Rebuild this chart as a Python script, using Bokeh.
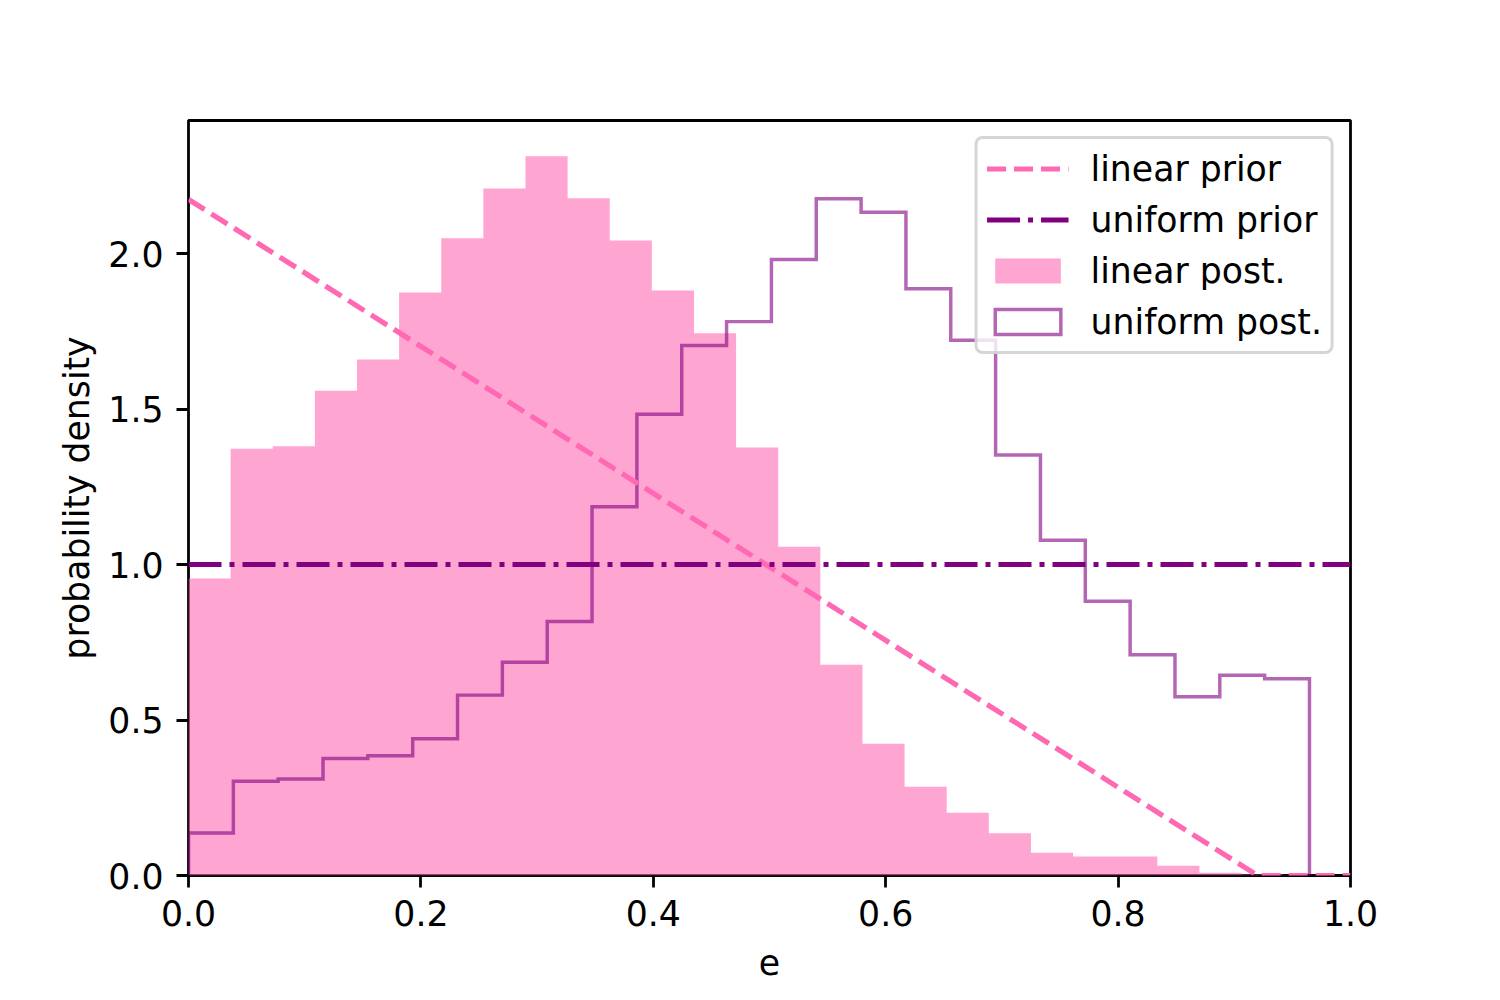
import numpy as np
from bokeh.plotting import figure
from bokeh.models import (Range1d, FixedTicker, PrintfTickFormatter, Legend,
                          LegendItem, ColumnDataSource)
from bokeh.embed import file_html
from bokeh.resources import INLINE

# ---------------- data ----------------
# linear-prior posterior histogram (filled)
linear_post_range = (0.0, 1.015)
linear_post = [0.955, 1.372, 1.380, 1.559, 1.659, 1.875, 2.049, 2.209, 2.313,
               2.178, 2.042, 1.881, 1.744, 1.376, 1.057, 0.678, 0.424, 0.285,
               0.202, 0.136, 0.073, 0.061, 0.061, 0.031, 0.009, 0.003, 0.001,
               0.0]

# uniform-prior posterior histogram (step)
uniform_post_range = (0.0, 0.9647)
uniform_post = [0.137, 0.303, 0.310, 0.376, 0.385, 0.440, 0.580, 0.686, 0.817,
                1.186, 1.483, 1.704, 1.781, 1.981, 2.176, 2.133, 1.887, 1.721,
                1.352, 1.078, 0.882, 0.710, 0.575, 0.644, 0.633]

# priors
linear_prior_x = [0.0, 0.92, 1.0]
linear_prior_y = [2.174, 0.0, 0.0]
uniform_prior_x = [0.0, 1.0]
uniform_prior_y = [1.0, 1.0]

x_ticks = [0.0, 0.2, 0.4, 0.6, 0.8, 1.0]
y_ticks = [0.0, 0.5, 1.0, 1.5, 2.0]

# ---------------- styles ----------------
FONT = "DejaVu Sans"
FS = "34.7px"
PT = 250 / 72.0


def step_path(lo, hi, heights):
    edges = np.linspace(lo, hi, len(heights) + 1)
    xs = np.repeat(edges, 2)
    ys = np.concatenate([[0.0], np.repeat(heights, 2), [0.0]])
    return xs, ys


p = figure(width=1484, height=984, output_backend="svg", toolbar_location=None,
           x_range=Range1d(0, 1), y_range=Range1d(0, 2.4277),
           min_border_left=188, min_border_right=134,
           min_border_top=120, min_border_bottom=109)
p.title = None
p.grid.visible = False
p.background_fill_color = "white"
p.border_fill_color = "white"
p.outline_line_color = "black"
p.outline_line_width = 0.8 * PT
p.outline_line_alpha = 1.0

# linear posterior (filled histogram as a single area)
lx, ly = step_path(linear_post_range[0], linear_post_range[1], linear_post)
r_lpost = p.patch(lx, ly, fill_color="hotpink", fill_alpha=0.6, line_color=None)

# uniform posterior (step outline)
ux, uy = step_path(uniform_post_range[0], uniform_post_range[1], uniform_post)
p.line(ux, uy, line_color="purple", line_alpha=0.6, line_width=1.0 * PT,
       line_join="miter")
# legend proxy for the step histogram (not drawn: NaN geometry)
r_upost = p.quad(source=ColumnDataSource(dict(l=[np.nan], r=[np.nan],
                                              b=[np.nan], t=[np.nan])),
                 left="l", right="r", bottom="b", top="t",
                 fill_color=None, line_color="purple", line_alpha=0.6,
                 line_width=1.0 * PT, line_join="miter")

# priors
r_lprior = p.line(linear_prior_x, linear_prior_y, line_color="hotpink",
                  line_width=1.5 * PT, line_dash="19 8")
r_uprior = p.line(uniform_prior_x, uniform_prior_y, line_color="purple",
                  line_width=1.5 * PT, line_dash="33 8 5 8")

# axes
for ax in (p.xaxis[0], p.yaxis[0]):
    ax.axis_line_color = None
    ax.major_tick_line_color = "black"
    ax.major_tick_line_width = 0.8 * PT
    ax.major_tick_out = 12
    ax.major_tick_in = 0
    ax.minor_tick_line_color = None
    ax.major_label_text_font = FONT
    ax.major_label_text_font_size = FS
    ax.major_label_text_color = "black"
    ax.axis_label_text_font = FONT
    ax.axis_label_text_font_size = FS
    ax.axis_label_text_font_style = "normal"
    ax.axis_label_text_color = "black"
    ax.formatter = PrintfTickFormatter(format="%.1f")

p.xaxis[0].ticker = FixedTicker(ticks=x_ticks)
p.yaxis[0].ticker = FixedTicker(ticks=y_ticks)
p.xaxis[0].axis_label = "e"
p.yaxis[0].axis_label = "probability density"
p.xaxis[0].major_label_standoff = 12
p.yaxis[0].major_label_standoff = 13
p.xaxis[0].axis_label_standoff = 20
p.yaxis[0].axis_label_standoff = 8

legend = Legend(items=[
    LegendItem(label="linear prior", renderers=[r_lprior]),
    LegendItem(label="uniform prior", renderers=[r_uprior]),
    LegendItem(label="linear post.", renderers=[r_lpost]),
    LegendItem(label="uniform post.", renderers=[r_upost]),
], location="top_right")
legend.margin = 16
legend.padding = 9
legend.spacing = 10
legend.glyph_width = 82
legend.glyph_height = 31
legend.label_height = 41
legend.label_standoff = 22
legend.label_text_font = FONT
legend.label_text_font_size = FS
legend.label_text_color = "black"
legend.label_text_baseline = "middle"
legend.border_line_color = "#cccccc"
legend.border_line_alpha = 0.8
legend.border_line_width = 3
legend.background_fill_color = "white"
legend.background_fill_alpha = 0.8
if "border_radius" in legend.properties():
    legend.border_radius = 8
p.add_layout(legend)

open("out.html", "w").write(file_html(p, INLINE))
